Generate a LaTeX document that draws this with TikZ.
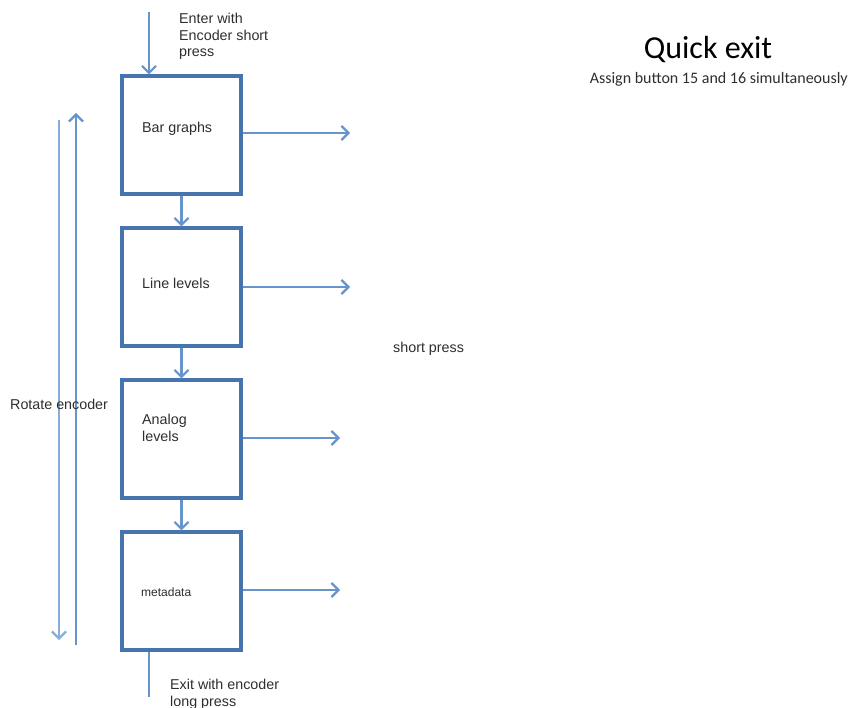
\documentclass[tikz,border=0pt]{standalone}
\usepackage{fontspec}
\setmainfont{Liberation Sans}
\newfontfamily\calib{Carlito}
\usetikzlibrary{arrows.meta}
\definecolor{boxblue}{HTML}{4674AE}
\definecolor{arrblue}{HTML}{6694CB}
\definecolor{lightblue}{HTML}{86AEDA}
\definecolor{txt}{HTML}{2E2E2E}
\tikzset{
  stepbox/.style={draw=boxblue, line width=3.2pt, minimum width=119pt, minimum height=118pt, inner sep=0pt, fill=white},
  barb/.style={-{Straight Barb[length=7pt,width=14pt,line width=2.2pt]}},
  flow/.style={draw=arrblue, line width=2.2pt, barb},
  lbl/.style={text=txt, font=\fontsize{14.3}{16.5}\selectfont, inner sep=0pt, align=left, anchor=west}
}
\begin{document}
\begin{tikzpicture}[x=1pt,y=-1pt]
\useasboundingbox (0,0) rectangle (849,708);
% boxes
\node[stepbox] (b1) at (181.5,135) {};
\node[stepbox] (b2) at (181.5,287) {};
\node[stepbox] (b3) at (181.5,439) {};
\node[stepbox] (b4) at (181.5,591) {};
% box labels
\node[lbl] (t1) at (142,129) {Bar graphs};
\node[lbl] (t2) at (142,283) {Line levels};
\node[lbl] (t3) at (142,428) {Analog\\levels};
\node[lbl, font=\fontsize{12}{14}\selectfont] (t4) at (141,592) {metadata};
% entry
\coordinate (in) at (149,12);
\draw[flow] (in) -- (b1.north -| in);
\node[lbl, anchor=north west] (enter) at (179,13) {Enter with\\Encoder short\\press};
% between boxes
\draw[flow] (b1.south) -- (b2.north);
\draw[flow] (b2.south) -- (b3.north);
\draw[flow] (b3.south) -- (b4.north);
% right arrows
\coordinate (r1) at (350,133);
\coordinate (r2) at (350,287);
\coordinate (r3) at (340,438);
\coordinate (r4) at (340,590);
\draw[flow] (b1.east |- r1) -- (r1);
\draw[flow] (b2.east |- r2) -- (r2);
\draw[flow] (b3.east |- r3) -- (r3);
\draw[flow] (b4.east |- r4) -- (r4);
% exit
\coordinate (out) at (149,697);
\draw[draw=arrblue, line width=2.2pt] (b4.south -| out) -- (out);
\node[lbl, anchor=north west] (exit) at (170,679) {Exit with encoder\\long press};
% rotate arrows
\coordinate (dtop) at (59,120);
\coordinate (dbot) at (59,640);
\coordinate (ubot) at (76,645);
\coordinate (utop) at (76,113);
\draw[flow, draw=lightblue] (dtop) -- (dbot);
\draw[flow] (ubot) -- (utop);
\node[lbl] (rot) at (10,404) {Rotate encoder};
% short press
\node[lbl] (sp) at (393,349) {short press};
% quick exit
\node[text=black, font=\calib\fontsize{32}{32}\selectfont, inner sep=0pt] (qe) at (708,50) {Quick exit};
\node[text=txt, font=\calib\fontsize{16}{16}\selectfont, inner sep=0pt, anchor=east] (assign) at (848,79) {Assign button 15 and 16 simultaneously};
\end{tikzpicture}
\end{document}
